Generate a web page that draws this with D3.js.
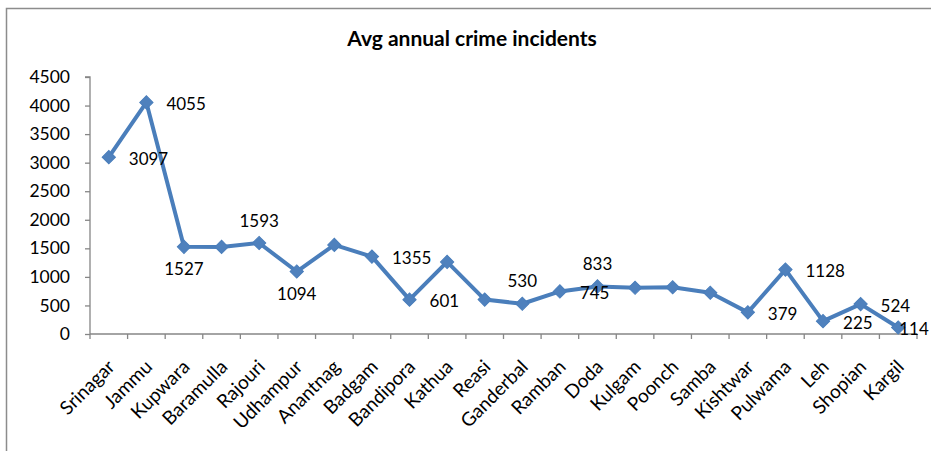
<!DOCTYPE html>
<html>
<head>
<meta charset="utf-8">
<script src="https://cdn.jsdelivr.net/npm/d3@7"></script>
<style>
  html, body { margin: 0; padding: 0; background: #fff; }
  svg { display: block; }
  text { font-family: Lato, "Open Sans", sans-serif; fill: #000; }
</style>
</head>
<body>
<svg id="chart" width="931" height="451"></svg>
<script>
// Districts and their average annual crime incidents
const districts = ["Srinagar", "Jammu", "Kupwara", "Baramulla", "Rajouri", "Udhampur",
  "Anantnag", "Badgam", "Bandipora", "Kathua", "Reasi", "Ganderbal", "Ramban", "Doda",
  "Kulgam", "Poonch", "Samba", "Kishtwar", "Pulwama", "Leh", "Shopian", "Kargil"];
const incidents = [3097, 4055, 1527, 1525, 1593, 1094, 1560, 1355, 601, 1262, 603, 530,
  745, 833, 810, 818, 722, 379, 1128, 225, 524, 114];
// Where each value label sits relative to its marker (null = no label)
const labelPlacement = ["right", "right", "below", null, "above", "below", null, "right",
  "right", null, null, "above", "right", "above", null, null, null, "right", "right",
  "right", "right", "tight"];
const yTicks = [0, 500, 1000, 1500, 2000, 2500, 3000, 3500, 4000, 4500];

const svg = d3.select("#chart");
const plotLeft = 90, plotRight = 917, plotTop = 77, plotBottom = 334;
const blue = "#4a7ebb";
const axisGray = "#868686";

// chart frame
svg.append("rect")
  .attr("x", 6.5).attr("y", 8.5)
  .attr("width", 1000).attr("height", 600)
  .attr("fill", "none").attr("stroke", "#8c8c8c").attr("stroke-width", 1.5);

const x = d3.scaleBand().domain(districts).range([plotLeft, plotRight]).padding(0);
const y = d3.scaleLinear().domain([0, 4500]).range([plotBottom, plotTop]);

// title
svg.append("text")
  .attr("x", 472).attr("y", 46)
  .attr("text-anchor", "middle")
  .style("font-weight", "bold").style("font-size", "21px")
  .text("Avg annual crime incidents");

// y axis
const yAxis = svg.append("g")
  .attr("transform", `translate(${plotLeft},0)`)
  .call(d3.axisLeft(y).tickValues(yTicks).tickSize(5).tickPadding(15).tickFormat(d3.format("d")));
yAxis.selectAll("path, line").attr("stroke", axisGray).attr("stroke-width", 1.3);
yAxis.select(".domain").attr("d", `M-5,${y(4500)}H0V${y(0)}`);
yAxis.selectAll("text").style("font-size", "17.5px").style("font-family", "Lato, sans-serif").attr("fill", "#000");

// x axis: ticks at category boundaries
const xg = svg.append("g").attr("transform", `translate(0,${y(0)})`);
xg.append("line")
  .attr("x1", plotLeft).attr("x2", plotRight)
  .attr("stroke", axisGray).attr("stroke-width", 1.3);
const bounds = districts.map(d => x(d)).concat([plotRight]);
xg.selectAll("line.tick").data(bounds).join("line")
  .attr("class", "tick")
  .attr("x1", d => d).attr("x2", d => d)
  .attr("y1", 0).attr("y2", 5)
  .attr("stroke", axisGray).attr("stroke-width", 1.3);
xg.selectAll("text.cat").data(districts).join("text")
  .attr("class", "cat")
  .attr("text-anchor", "end")
  .style("font-size", "19px")
  .attr("transform", d => `translate(${x(d) + x.bandwidth() / 2 + 7},${34}) rotate(-45)`)
  .text(d => d);

const cx = (d, i) => x(districts[i]) + x.bandwidth() / 2;

// line
const line = d3.line().x((d, i) => cx(d, i)).y(d => y(d));
svg.append("path")
  .datum(incidents)
  .attr("d", line)
  .attr("fill", "none")
  .attr("stroke", blue)
  .attr("stroke-width", 4)
  .attr("stroke-linejoin", "round");

// diamond markers
const diamond = d3.symbol(d3.symbolSquare, 88);
svg.selectAll("path.marker").data(incidents).join("path")
  .attr("class", "marker")
  .attr("d", diamond)
  .attr("fill", "#4f81bd")
  .attr("stroke", blue)
  .attr("stroke-width", 1)
  .attr("transform", (d, i) => `translate(${cx(d, i)},${y(d)}) rotate(45)`);

// value labels
const dx = { right: 20, tight: 1, above: 0, below: 0 };
const dy = { right: 1, tight: 1, above: -23, below: 22 };
const labelled = incidents.map((v, i) => ({ v, i, pos: labelPlacement[i] })).filter(d => d.pos);
svg.selectAll("text.val").data(labelled).join("text")
  .attr("class", "val")
  .style("font-size", "17px")
  .attr("dominant-baseline", "central")
  .attr("text-anchor", d => (d.pos === "above" || d.pos === "below") ? "middle" : "start")
  .attr("x", d => cx(d.v, d.i) + dx[d.pos])
  .attr("y", d => y(d.v) + dy[d.pos])
  .text(d => d.v);
</script>
</body>
</html>
